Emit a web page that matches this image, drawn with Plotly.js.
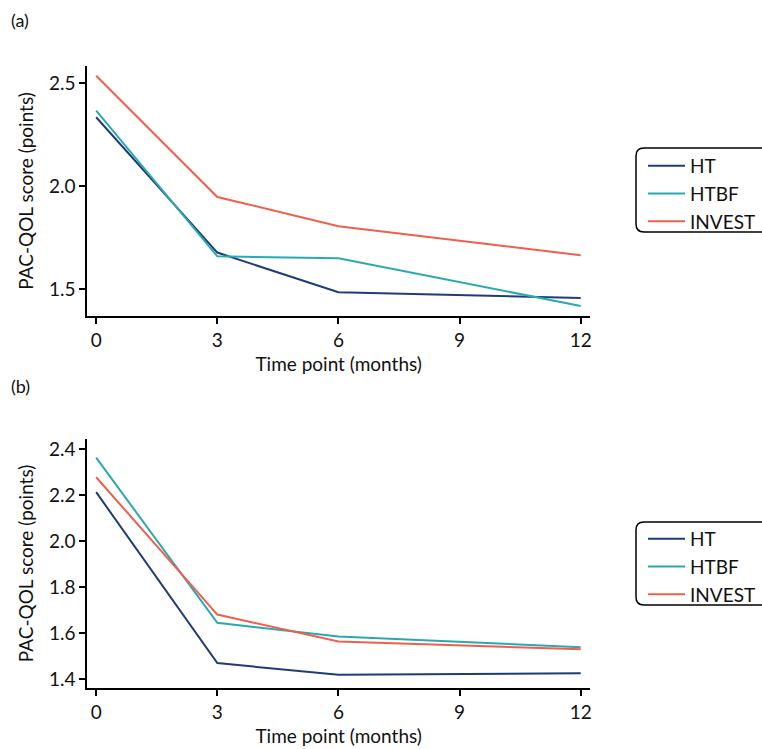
<!DOCTYPE html>
<html>
<head>
<meta charset="utf-8">
<script src="https://cdn.plot.ly/plotly-3.0.1.min.js"></script>
<style>
  html, body { margin: 0; padding: 0; background: #fff; }
  #chart { width: 762px; height: 749px; }
</style>
</head>
<body>
<div id="chart"></div>
<script>
// Follow-up time points (months)
const months = [0, 3, 6, 12];
const xTicks = [0, 3, 6, 9, 12];
const groups = ['HT', 'HTBF', 'INVEST'];

// Panel (a): mean PAC-QOL score per group
const aHT     = [2.335, 1.678, 1.485, 1.458];
const aHTBF   = [2.367, 1.660, 1.650, 1.419];
const aINVEST = [2.537, 1.948, 1.806, 1.665];

// Panel (b): mean PAC-QOL score per group
const bHT     = [2.213, 1.470, 1.419, 1.426];
const bHTBF   = [2.363, 1.645, 1.586, 1.539];
const bINVEST = [2.278, 1.681, 1.564, 1.530];

const colors = { HT: '#1f3c78', HTBF: '#2aa9b1', INVEST: '#ef5f4c' };
const FONT = 'Lato, "Open Sans", sans-serif';
const FS = 19;

function line(name, y, xa, ya, legend) {
  return {
    x: months, y: y, name: name, type: 'scatter', mode: 'lines',
    xaxis: xa, yaxis: ya, legend: legend,
    line: { color: colors[name], width: 2 }
  };
}

const data = [
  line('HT', aHT, 'x', 'y', 'legend'),
  line('HTBF', aHTBF, 'x', 'y', 'legend'),
  line('INVEST', aINVEST, 'x', 'y', 'legend'),
  line('HT', bHT, 'x2', 'y2', 'legend2'),
  line('HTBF', bHTBF, 'x2', 'y2', 'legend2'),
  line('INVEST', bINVEST, 'x2', 'y2', 'legend2')
];

const W = 762, H = 749;
const px = v => v / W;
const py = v => 1 - v / H;

function xAxis(anchor, dom) {
  return {
    domain: dom, anchor: anchor, range: [-0.22, 12.23],
    tickvals: xTicks, ticktext: xTicks.map(String),
    showline: true, linecolor: '#000', linewidth: 2,
    ticks: 'outside', ticklen: 6, tickwidth: 2, tickcolor: '#000',
    showgrid: false, zeroline: false,
    tickfont: { family: FONT, size: FS, color: '#111' },
    title: { text: 'Time point (months)', font: { family: FONT, size: FS, color: '#111' }, standoff: 8 }
  };
}
function yAxis(anchor, dom, range, vals, txt) {
  return {
    domain: dom, anchor: anchor, range: range,
    tickvals: vals, ticktext: txt,
    showline: true, linecolor: '#000', linewidth: 2,
    ticks: 'outside', ticklen: 6, tickwidth: 2, tickcolor: '#000',
    showgrid: false, zeroline: false,
    tickfont: { family: FONT, size: FS, color: '#111' },
    title: { text: 'PAC-QOL score (points)', font: { family: FONT, size: FS, color: '#111' }, standoff: 10 }
  };
}

function roundRect(x0, y0, x1, y1, r) {
  // rounded rectangle in pixel space, converted to paper coords
  const X = v => px(v).toFixed(5), Y = v => py(v).toFixed(5);
  return 'M' + X(x0 + r) + ',' + Y(y0) +
    ' L' + X(x1 - r) + ',' + Y(y0) +
    ' Q' + X(x1) + ',' + Y(y0) + ' ' + X(x1) + ',' + Y(y0 + r) +
    ' L' + X(x1) + ',' + Y(y1 - r) +
    ' Q' + X(x1) + ',' + Y(y1) + ' ' + X(x1 - r) + ',' + Y(y1) +
    ' L' + X(x0 + r) + ',' + Y(y1) +
    ' Q' + X(x0) + ',' + Y(y1) + ' ' + X(x0) + ',' + Y(y1 - r) +
    ' L' + X(x0) + ',' + Y(y0 + r) +
    ' Q' + X(x0) + ',' + Y(y0) + ' ' + X(x0 + r) + ',' + Y(y0) + ' Z';
}

const xDom = [px(87.3), px(590)];

const legendBase = {
  xref: 'paper', yref: 'paper', xanchor: 'left', yanchor: 'top',
  bgcolor: 'rgba(0,0,0,0)', borderwidth: 0,
  font: { family: FONT, size: 19, color: '#111' },
  tracegroupgap: 0, itemwidth: 37
};

const layout = {
  width: W, height: H,
  margin: { l: 0, r: 0, t: 0, b: 0 },
  paper_bgcolor: '#fff', plot_bgcolor: '#fff',
  showlegend: true,
  xaxis: xAxis('y', xDom),
  yaxis: yAxis('x', [py(316), py(66)], [1.37, 2.584], [1.5, 2.0, 2.5], ['1.5', '2.0', '2.5']),
  xaxis2: xAxis('y2', xDom),
  yaxis2: yAxis('x2', [py(687.7), py(439.3)], [1.363, 2.443],
    [1.4, 1.6, 1.8, 2.0, 2.2, 2.4], ['1.4', '1.6', '1.8', '2.0', '2.2', '2.4']),
  legend: Object.assign({}, legendBase, { x: px(643), y: py(147) }),
  legend2: Object.assign({}, legendBase, { x: px(643), y: py(520) }),
  shapes: [
    { type: 'path', xref: 'paper', yref: 'paper', path: roundRect(636, 148, 775, 232, 8),
      line: { color: '#000', width: 1.5 }, fillcolor: 'rgba(0,0,0,0)' },
    { type: 'path', xref: 'paper', yref: 'paper', path: roundRect(636, 522, 775, 605, 8),
      line: { color: '#000', width: 1.5 }, fillcolor: 'rgba(0,0,0,0)' }
  ],
  annotations: [
    { text: '(a)', xref: 'paper', yref: 'paper', x: px(9), y: py(20), xanchor: 'left', yanchor: 'middle',
      showarrow: false, font: { family: FONT, size: 18, color: '#111' } },
    { text: '(b)', xref: 'paper', yref: 'paper', x: px(9), y: py(386), xanchor: 'left', yanchor: 'middle',
      showarrow: false, font: { family: FONT, size: 18, color: '#111' } }
  ]
};

Plotly.newPlot('chart', data, layout, { displayModeBar: false, staticPlot: true });
</script>
</body>
</html>
